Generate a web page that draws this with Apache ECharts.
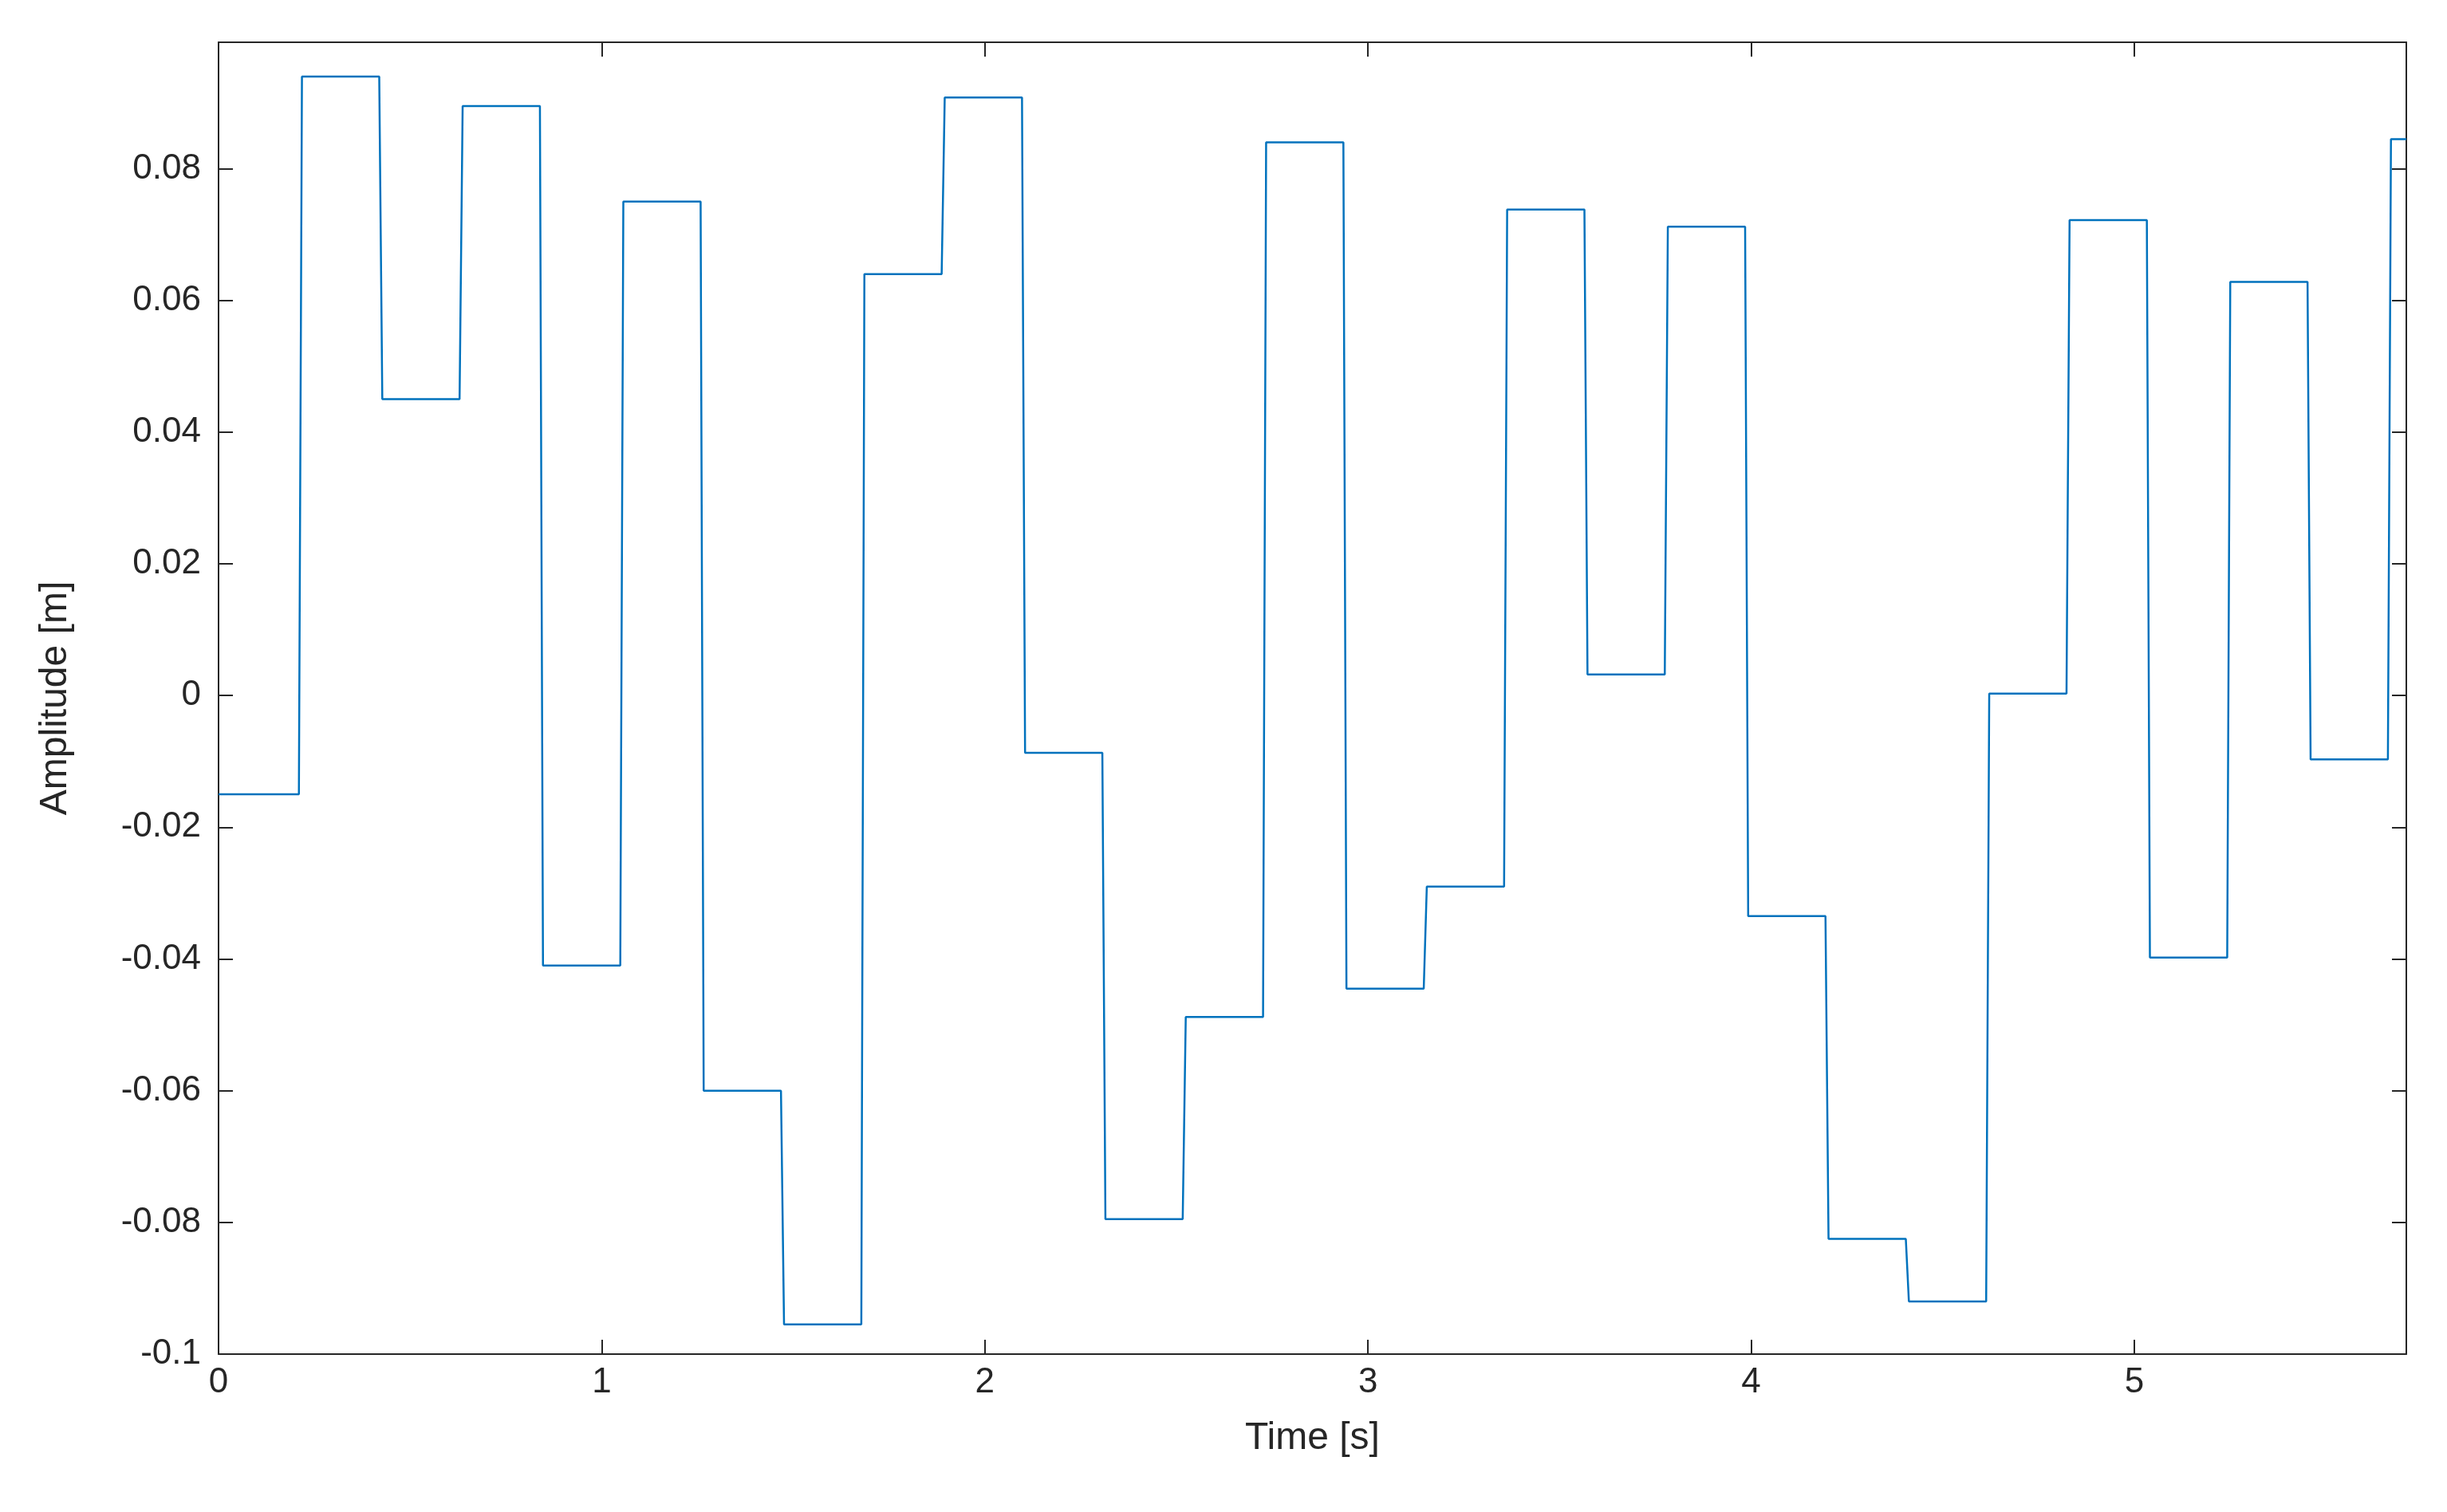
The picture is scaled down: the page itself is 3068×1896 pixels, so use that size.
<!DOCTYPE html>
<html><head><meta charset="utf-8">
<script src="https://cdn.jsdelivr.net/npm/echarts@6/dist/echarts.min.js"></script>
<style>html,body{margin:0;background:#fff}#main{width:3068px;height:1896px}</style>
</head><body><div id="main"></div>
<script>
var stepTime = 0.2097;
var rampTime = 0.008;
var xMax = 5.71;
var levels = [-0.015, 0.094, 0.045, 0.0895, -0.041, 0.075, -0.060, -0.0955, 0.064, 0.0908,
  -0.0087, -0.0795, -0.0488, 0.084, -0.0445, -0.029, 0.0738, 0.0032, 0.0712, -0.0335,
  -0.0825, -0.092, 0.0003, 0.0722, -0.0398, 0.0628, -0.0097, 0.0845];

var data = [];
for (var k = 0; k < levels.length; k++) {
  var t0 = k * stepTime + (k > 0 ? rampTime : 0);
  var t1 = Math.min((k + 1) * stepTime, xMax);
  data.push([t0, levels[k]]);
  data.push([t1, levels[k]]);
}

var font = 'Liberation Sans';
var axLine = {show: true, onZero: false, lineStyle: {color: '#262626', width: 2}};
var tick = {inside: true, length: 18, lineStyle: {color: '#262626', width: 2}};
var myChart = echarts.init(document.getElementById('main'));
myChart.setOption({
  animation: false,
  grid: {left: 274, right: 51, top: 53, bottom: 198},
  xAxis: [{
    type: 'value', min: 0, max: xMax, interval: 1,
    name: 'Time [s]', nameLocation: 'middle', nameGap: 82,
    nameTextStyle: {fontFamily: font, fontSize: 48, color: '#262626'},
    axisLine: axLine, axisTick: tick,
    axisLabel: {fontFamily: font, fontSize: 44, color: '#262626', margin: 14,
      showMaxLabel: false},
    splitLine: {show: false}
  }, {
    type: 'value', min: 0, max: xMax, interval: 1, position: 'top',
    axisLine: axLine, axisTick: tick,
    axisLabel: {show: false}, splitLine: {show: false}
  }],
  yAxis: [{
    type: 'value', min: -0.1, max: 0.0992, interval: 0.02,
    name: 'Amplitude [m]', nameLocation: 'middle', nameGap: 180,
    nameTextStyle: {fontFamily: font, fontSize: 48, color: '#262626'},
    axisLine: axLine, axisTick: tick,
    axisLabel: {fontFamily: font, fontSize: 44, color: '#262626', margin: 22,
      showMaxLabel: false,
      formatter: function (v) { return v === 0 ? '0' : String(+v.toFixed(2)); }},
    splitLine: {show: false}
  }, {
    type: 'value', min: -0.1, max: 0.0992, interval: 0.02, position: 'right',
    axisLine: axLine, axisTick: tick,
    axisLabel: {show: false}, splitLine: {show: false}
  }],
  series: [{
    type: 'line', data: data, showSymbol: false,
    lineStyle: {color: '#0072BD', width: 2.5}
  }]
});
</script></body></html>
